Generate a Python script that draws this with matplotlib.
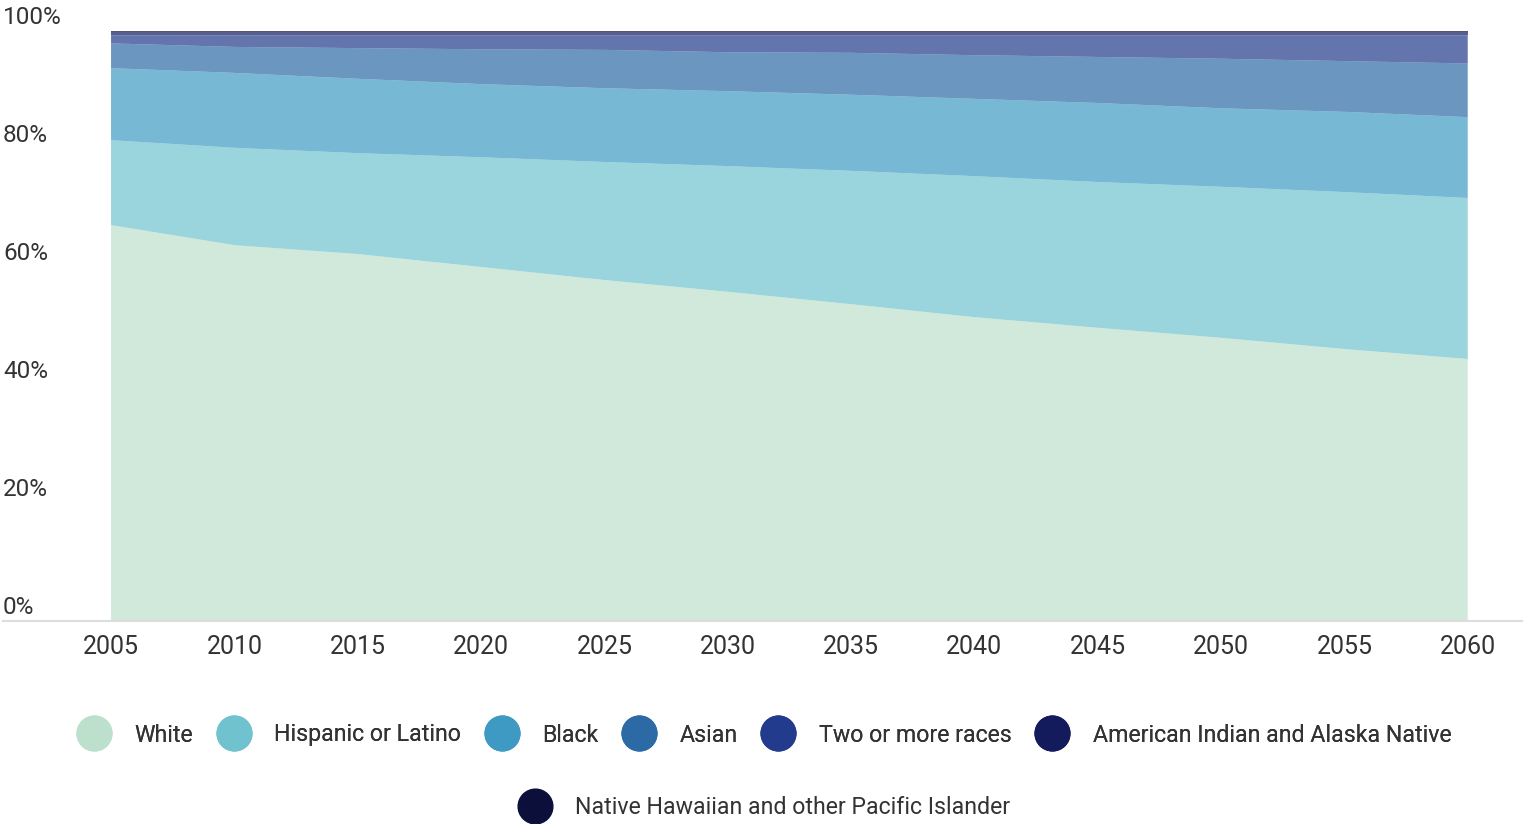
import matplotlib
matplotlib.use("Agg")
import matplotlib.pyplot as plt
from matplotlib.lines import Line2D
from matplotlib.transforms import offset_copy

plt.rcParams['font.family'] = ['Roboto', 'DejaVu Sans']

years = [2005, 2010, 2015, 2020, 2025, 2030, 2035, 2040, 2045, 2050, 2055, 2060]

# share of population, percent
white = [67.1, 63.7, 62.2, 60.0, 57.8, 55.8, 53.7, 51.5, 49.7, 48.0, 46.1, 44.4]
hispanic = [14.4, 16.5, 17.1, 18.6, 20.0, 21.3, 22.6, 23.9, 24.7, 25.6, 26.6, 27.3]
black = [12.2, 12.7, 12.6, 12.4, 12.5, 12.7, 12.9, 13.1, 13.4, 13.3, 13.6, 13.7]
asian = [4.2, 4.4, 5.2, 5.9, 6.5, 6.6, 7.1, 7.4, 7.8, 8.4, 8.6, 9.1]
two_or_more = [1.4, 2.0, 2.2, 2.4, 2.5, 2.9, 3.0, 3.4, 3.7, 4.0, 4.4, 4.8]
aian = [0.5] * 12
nhpi = [0.2] * 12

labels = ["White", "Hispanic or Latino", "Black", "Asian", "Two or more races",
          "American Indian and Alaska Native",
          "Native Hawaiian and other Pacific Islander"]
colors = ["#bde0cd", "#6fc2ce", "#3e9ac3", "#2c6aa5", "#233b8c", "#131b5c", "#0b0f3a"]
y_ticks = [0, 20, 40, 60, 80, 100]

fig = plt.figure(figsize=(15.24, 8.24), dpi=100)
ax = fig.add_axes([3 / 1524, 1 - 621 / 824, 1519 / 1524, 590 / 824])

ax.stackplot(years, white, hispanic, black, asian, two_or_more, aian, nhpi,
             colors=colors, alpha=0.7, linewidth=0)

ax.set_xlim(2000.62, 2062.2)
ax.set_ylim(0, 100)
ax.set_xticks(years)
ax.set_xticklabels([str(y) for y in years], fontsize=18, color="#333333")
ax.tick_params(axis="x", length=0, pad=10)
ax.set_yticks([])

for side in ["top", "right", "left"]:
    ax.spines[side].set_visible(False)
ax.spines["bottom"].set_color("#dddddd")
ax.spines["bottom"].set_linewidth(1.5)

# percent labels sit just above each gridline position
lift = offset_copy(ax.get_yaxis_transform(), fig=fig, x=0, y=5, units="points")
for t in y_ticks:
    ax.text(0, t, f"{t}%", transform=lift, ha="left", va="baseline",
            fontsize=17.5, color="#333333")

handles = [Line2D([], [], linestyle="none", marker="o", markersize=25,
                  markerfacecolor=c, markeredgecolor=c) for c in colors]

leg_kw = dict(frameon=False, fontsize=16.7, handlelength=1.3, handletextpad=1.1,
              columnspacing=1.1, labelcolor="#333333")
leg1 = fig.legend(handles[:6], labels[:6], loc="center",
                  bbox_to_anchor=(0.502, 1 - 735 / 824), ncol=6, **leg_kw)
fig.add_artist(leg1)
fig.legend(handles[6:], labels[6:], loc="center",
           bbox_to_anchor=(0.502, 1 - 808 / 824), ncol=1, **leg_kw)

fig.savefig("out.png", dpi=100)
